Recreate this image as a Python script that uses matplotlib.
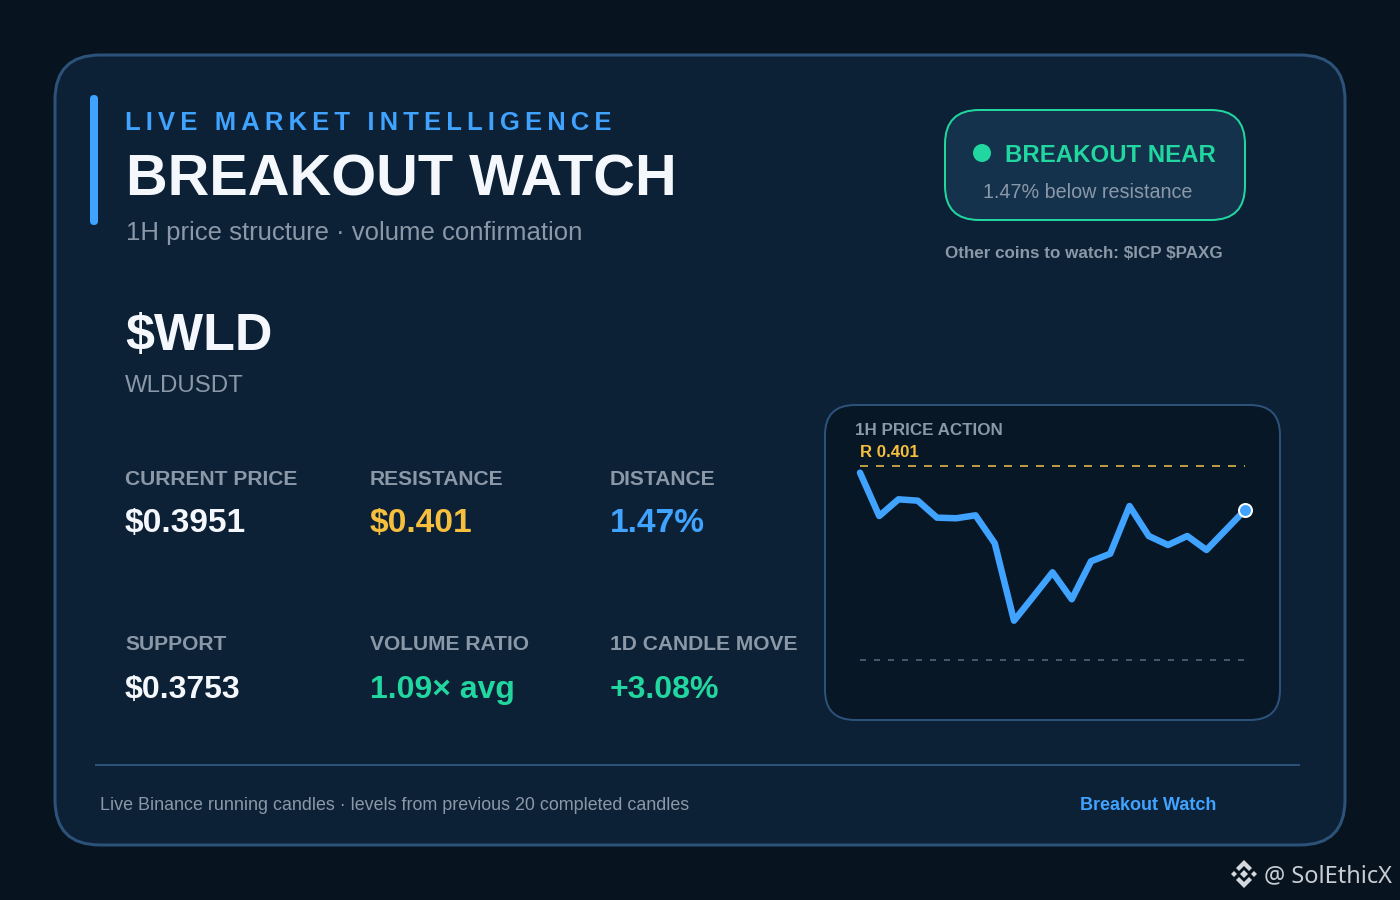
import matplotlib
matplotlib.use('Agg')
import matplotlib.pyplot as plt
from matplotlib.patches import FancyBboxPatch, Polygon, Circle

W, H = 1400, 900
PX = 0.72 # 1 px in points at dpi 100

# chart data
hours = list(range(21))
prices = [0.40005, 0.39431, 0.39652, 0.39634, 0.39409, 0.39401, 0.39440,
	0.39069, 0.38044, 0.38362, 0.38685, 0.38328, 0.38831, 0.38932,
	0.39563, 0.39166, 0.39047, 0.39166, 0.38981, 0.39246, 0.39510]
resistance = 0.401
support = 0.3753

# text
eyebrow = "LIVE MARKET INTELLIGENCE"
title = "BREAKOUT WATCH"
subtitle = "1H price structure · volume confirmation"
symbol = r"\$WLD"
pair = "WLDUSDT"
metric_labels = ["CURRENT PRICE", "RESISTANCE", "DISTANCE", "SUPPORT", "VOLUME RATIO", "1D CANDLE MOVE"]
metric_values = [r"\$0.3951", r"\$0.401", "1.47%", r"\$0.3753", "1.09× avg", "+3.08%"]

BG = "#07131f"
CARD = "#0d2136"
EDGE = "#2c527a"
BLUE = "#3fa3ff"
GREEN = "#22d69f"
GOLD = "#f7bf3e"
WHITE = "#f4f7fb"
GREY = "#8a98a8"
metric_colours = [WHITE, GOLD, BLUE, WHITE, GREEN, GREEN]

plt.rcParams['font.family'] = ['Liberation Sans', 'DejaVu Sans']
plt.rcParams['lines.scale_dashes'] = False

fig = plt.figure(figsize=(14, 9), dpi=100, facecolor=BG)
ax = fig.add_axes([0, 0, 1, 1])
ax.set_xlim(0, W)
ax.set_ylim(H, 0)
ax.axis('off')


def box(x0, y0, x1, y1, r, face, edge=None, lw=2):
	ax.add_patch(FancyBboxPatch((x0, y0), x1 - x0, y1 - y0, boxstyle="round,pad=0,rounding_size=%s" % r,
		facecolor=face, edgecolor=edge if edge else 'none', linewidth=lw * PX))


def txt(x, y, s, size, colour, bold=False, family=None):
	kw = {'family': family} if family else {}
	return ax.text(x, y, s, fontsize=size * PX, color=colour, va='baseline', ha='left',
		fontweight='bold' if bold else 'normal', **kw)


# panels
box(55, 55, 1345, 845, 45, CARD, EDGE, 3)
box(90, 95, 98, 225, 4, BLUE)
box(945, 110, 1245, 220, 34, "#15324d", GREEN, 2)
box(825, 405, 1280, 720, 30, "#081726", EDGE, 2)
ax.plot([95, 1300], [765, 765], color=EDGE, lw=2 * PX, solid_capstyle='butt')

# header
txt(125, 130, "\u2009".join(eyebrow), 25.6, BLUE, True)
txt(126, 195, title, 57.8, WHITE, True)
txt(126, 240, subtitle, 25.8, GREY)
txt(125, 350, symbol, 52, WHITE, True)
txt(125, 392, pair, 24, GREY)

# status pill
ax.add_patch(Circle((982, 153), 9, facecolor=GREEN, edgecolor='none'))
txt(1005, 162, "BREAKOUT NEAR", 24, GREEN, True)
txt(983, 198, "1.47% below resistance", 19.8, GREY)
txt(945, 258, r"Other coins to watch: \$ICP \$PAXG", 17, GREY, True)

# metrics grid
col_x = [125, 370, 610]
row_y = [(485, 532), (650, 698)]
value_px = [33.5, 32]
for i in range(len(metric_labels)):
	label_y, value_y = row_y[i // 3]
	txt(col_x[i % 3], label_y, metric_labels[i], 21, GREY, True)
	txt(col_x[i % 3], value_y, metric_values[i], value_px[i // 3], metric_colours[i], True)

# footer
txt(100, 810, "Live Binance running candles · levels from previous 20 completed candles", 17.9, GREY)
txt(1080, 810, "Breakout Watch", 18, BLUE, True)

# mini chart, axes spans the level lines so the price scale sets the pixels
txt(855, 435, "1H PRICE ACTION", 17, GREY, True)
txt(860, 457, "R 0.401", 16.7, GOLD, True)
chart = fig.add_axes([860 / W, 1 - 659.5 / H, 385 / W, 194 / H])
chart.set_xlim(hours[0], hours[-1])
chart.set_ylim(support, resistance)
chart.axis('off')
chart.plot(hours, [resistance] * len(hours), color="#b99b3f", lw=2 * PX,
	linestyle=(0, (8 * PX, 8 * PX)), clip_on=False)
chart.plot(hours, [support] * len(hours), color="#46566a", lw=2 * PX,
	linestyle=(0, (6 * PX, 8 * PX)), clip_on=False)
chart.plot(hours, prices, color=BLUE, lw=6.5 * PX, solid_joinstyle='round', solid_capstyle='round', clip_on=False)
chart.plot(hours[-1:], prices[-1:], 'o', color=BLUE, ms=13 * PX, mec='white', mew=2 * PX, clip_on=False)

# watermark logo
LOGO = "#d5d9de"
cx, cy = 1244, 874
shapes = [
	[(-4, 0), (0, -4), (4, 0), (0, 4)],
	[(-13, 0), (-10, -3), (-7, 0), (-10, 3)],
	[(7, 0), (10, -3), (13, 0), (10, 3)],
	[(0, -14), (8, -6), (5, -3), (0, -8), (-5, -3), (-8, -6)],
	[(0, 14), (8, 6), (5, 3), (0, 8), (-5, 3), (-8, 6)],
]
for shape in shapes:
	ax.add_patch(Polygon([(cx + a, cy + b) for a, b in shape], closed=True, facecolor=LOGO, edgecolor='none'))
txt(1264, 882, "@ SolEthicX", 23.6, "#c8cdd3", family='Noto Sans')

plt.savefig("out.png", dpi=100, facecolor=BG)
